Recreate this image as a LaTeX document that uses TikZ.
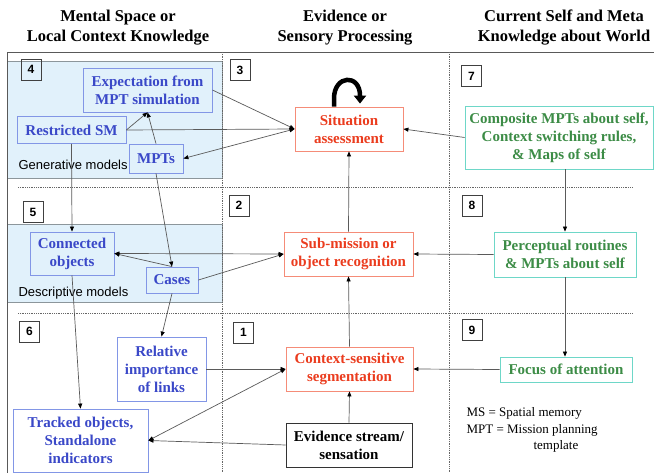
\documentclass[tikz,border=0pt]{standalone}
\usepackage{fontspec}
\setmainfont{Liberation Serif}
\setsansfont{Liberation Sans}
\usetikzlibrary{arrows.meta}
\definecolor{blueT}{RGB}{58,72,200}
\definecolor{blueB}{RGB}{130,150,230}
\definecolor{redT}{RGB}{235,60,30}
\definecolor{redB}{RGB}{245,140,120}
\definecolor{greenT}{RGB}{60,140,70}
\definecolor{tealB}{RGB}{110,215,200}
\definecolor{fillB}{RGB}{225,241,251}
\definecolor{regB}{RGB}{140,150,155}
\definecolor{lineC}{RGB}{90,90,90}
\begin{document}
\begin{tikzpicture}[x=1pt,y=-1pt,
  box/.style={draw, line width=0.8pt, inner sep=0pt, align=center, font=\fontsize{15}{18}\selectfont\bfseries},
  bluebox/.style={box, draw=blueB, text=blueT},
  redbox/.style={box, draw=redB, text=redT},
  greenbox/.style={box, draw=tealB, text=greenT},
  numbox/.style={draw=black!75, line width=0.8pt, minimum width=20pt, minimum height=21pt, inner sep=0pt, font=\sffamily\bfseries\fontsize{12}{12}\selectfont},
  hdr/.style={align=center, font=\fontsize{16.5}{20}\selectfont\bfseries},
  region/.style={draw=regB, fill=fillB, line width=0.8pt},
  gridline/.style={draw=black!60, densely dotted, line width=0.8pt},
  arr/.style={draw=lineC, line width=0.7pt, -{Triangle[length=5pt,width=4pt,color=black]}},
  arrb/.style={draw=lineC, line width=0.7pt, {Triangle[length=5pt,width=4pt,color=black]}-{Triangle[length=5pt,width=4pt,color=black]}},
  lbl/.style={anchor=base west, font=\sffamily\fontsize{13}{13}\selectfont},
  leg/.style={anchor=base west, font=\fontsize{13}{13}\selectfont},
]
\useasboundingbox (0,0) rectangle (654,473);
\fill[white] (0,0) rectangle (654,473);

% regions
\path[region] (7,61) rectangle (222,178);
\path[region] (7,224) rectangle (222,302);

% frame lines
\draw[draw=black!65, line width=0.9pt] (654,52) -- (7,52) -- (7,473);
\draw[gridline] (222,52) -- (222,473);
\draw[gridline] (449,52) -- (449,473);
\draw[gridline] (18,187) -- (632,187);
\draw[gridline] (18,313) -- (632,313);

% headers
\node[hdr] (h1) at (118,28) {Mental Space or\\Local Context Knowledge};
\node[hdr] (h2) at (345,28) {Evidence or\\Sensory Processing};
\node[hdr] (h3) at (564,28) {Current Self and Meta\\Knowledge about World};

% number boxes
\node[numbox] (n4) at (31,69.5) {4};
\node[numbox] (n3) at (240,70) {3};
\node[numbox] (n7) at (471.5,76) {7};
\node[numbox] (n5) at (33,212) {5};
\node[numbox] (n2) at (239,205.5) {2};
\node[numbox] (n8) at (472,205.5) {8};
\node[numbox] (n6) at (29.5,331.5) {6};
\node[numbox] (n1) at (243.5,332.5) {1};
\node[numbox] (n9) at (472,330) {9};

% labels
\node[lbl] (gm) at (15,170) {Generative models};
\node[lbl] (dm) at (15,297) {Descriptive models};

% nodes
\node[bluebox, minimum width=129pt, minimum height=44pt] (exp) at (147.5,90) {Expectation from\\MPT simulation};
\node[bluebox, minimum width=109pt, minimum height=27pt] (rsm) at (71.5,130) {Restricted SM};
\node[bluebox, minimum width=54pt, minimum height=29pt] (mpts) at (156,158.5) {MPTs};
\node[redbox, minimum width=108pt, minimum height=44pt] (sa) at (349,129) {Situation\\assessment};
\node[greenbox, minimum width=188pt, minimum height=63pt] (comp) at (559,137.5) {Composite MPTs about self,\\Context switching rules,\\\& Maps of self};
\node[redbox, minimum width=129pt, minimum height=44pt] (sub) at (348.5,254) {Sub-mission or\\object recognition};
\node[greenbox, minimum width=142pt, minimum height=45pt] (perc) at (565,254.5) {Perceptual routines\\\& MPTs about self};
\node[bluebox, minimum width=84pt, minimum height=43pt] (conn) at (72,253.5) {Connected\\objects};
\node[bluebox, minimum width=52pt, minimum height=26pt] (cases) at (172,280) {Cases};
\node[bluebox, minimum width=89pt, minimum height=64pt] (rel) at (161.5,369) {Relative\\importance\\of links};
\node[bluebox, minimum width=135pt, minimum height=63pt] (trk) at (80.5,440.5) {Tracked objects,\\Standalone\\indicators};
\node[redbox, minimum width=127pt, minimum height=44pt] (ctx) at (349.5,369) {Context-sensitive\\segmentation};
\node[box, draw=black!80, minimum width=126pt, minimum height=44pt] (ev) at (349,445) {Evidence stream/\\sensation};
\node[greenbox, minimum width=132pt, minimum height=25pt] (foc) at (566,369.5) {Focus of attention};

% legend
\node[leg] (lg1) at (463,417) {MS = Spatial memory};
\node[leg] (lg2) at (463,433) {MPT = Mission planning};
\node[leg] (lg3) at (530,449) {template};

% self loop
\coordinate (loopA) at ([xshift=-15pt]sa.north);
\coordinate (loopB) at ([xshift=11pt,yshift=11pt]sa.north);
\draw[line width=4.5pt, -{Triangle[length=8pt,width=12pt]}] (loopA) -- ++(0,-8) .. controls ++(0,-24) and ++(0,-22) .. (loopB) -- ++(0,8);

% connectors
\draw[arr] (exp.east) -- (sa.west);
\draw[arr] (rsm.east) -- (sa.west);
\draw[arrb] (sa.west) -- (mpts.east);
\draw[arr] (rsm.east) -- (exp.south);
\draw[arr] (mpts.north) -- (exp.south);
\draw[arr] (mpts.south) -- (cases.north);
\draw[arr] (rsm.south) -- (conn.north);
\draw[arrb] (conn.east) -- (sub.west);
\draw[arr] (cases.north) -- (conn.east);
\draw[arr] (cases.east) -- (sub.west);
\draw[arr] (conn.south) -- (trk.north);
\draw[arr] (cases.south) -- (rel.north);
\draw[arr] (rel.east) -- (ctx.west);
\draw[arrb] (ctx.west) -- (trk.east);
\draw[arr] (ev.west) -- (trk.east);
\draw[arr] (ev.north) -- (ctx.south);
\draw[arr] (ctx.north) -- (sub.south);
\draw[arr] (sub.north) -- (sa.south);
\draw[arr] (comp.west) -- (sa.east);
\draw[arr] (perc.north |- comp.south) -- (perc.north);
\draw[arr] (perc.west) -- (sub.east);
\draw[arr] (perc.south) -- (foc.north -| perc.south);
\draw[arr] (foc.west) -- (ctx.east);
\end{tikzpicture}
\end{document}
